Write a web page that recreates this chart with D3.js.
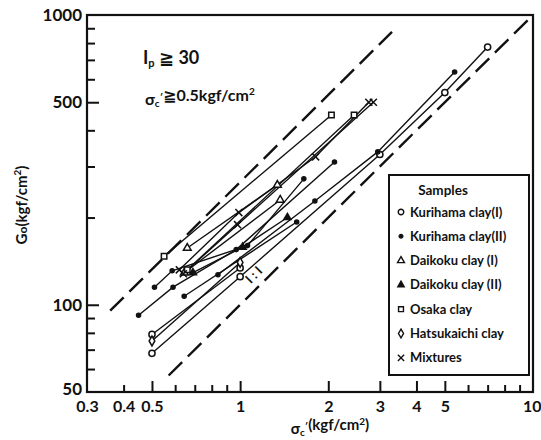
<!DOCTYPE html>
<html>
<head>
<meta charset="utf-8">
<script src="https://cdn.jsdelivr.net/npm/d3@7"></script>
<style>
  body { margin: 0; background: #fff; }
  text { font-family: Lato, "DejaVu Sans", sans-serif; font-weight: 700; fill: #111; }
</style>
</head>
<body>
<div id="chart"></div>
<script>
// data: [sigma_c' (kgf/cm2), G0 (kgf/cm2)], one array per sample line
const kurihamaI = [
  [[0.5, 68], [1.0, 125], [3.0, 330], [5.0, 540], [7.0, 775]],
  [[0.5, 79], [1.0, 134]]
];
const kurihamaII = [
  [[0.45, 92], [0.59, 115], [0.97, 155], [2.1, 311]],
  [[0.51, 115], [0.586, 131], [1.06, 160], [1.65, 272]],
  [[0.644, 107], [1.56, 193]],
  [[0.84, 127], [1.8, 228], [2.95, 337], [5.4, 636]]
];
const daikokuI = [
  [[0.66, 157], [1.34, 259]],
  [[0.645, 129], [1.37, 230]]
];
const daikokuII = [
  [[0.69, 129], [1.02, 158], [1.45, 200]]
];
const osaka = [
  [[0.55, 147], [2.05, 452]],
  [[0.66, 132], [2.45, 452]]
];
const hatsukaichi = [
  [[0.5, 75], [1.0, 140]]
];
const mixtures = [
  [[0.62, 132], [0.99, 208], [1.81, 324], [2.75, 500]],
  [[0.64, 128], [0.98, 189], [2.85, 500]]
];

// dashed bounds: G0 = k * sigma
const boundUpper = { k: 265, from: 0.36, to: 3.3 };
const boundLower = { k: 100, from: 0.57, to: 10 };

const xLabels = [0.3, 0.4, 0.5, 1, 2, 3, 4, 5, 10];
const xMajor = [0.5, 1, 2, 3, 4, 5];
const xMinor = [0.4, 0.6, 0.7, 0.8, 0.9, 6, 7, 8, 9];
const yLabels = [50, 100, 500, 1000];
const yMajor = [100, 500];
const yMinor = [60, 70, 80, 90, 200, 300, 400, 600, 700, 800, 900];

const legendNames = ["Kurihama clay(I)", "Kurihama clay(II)", "Daikoku clay (I)", "Daikoku clay (II)", "Osaka clay", "Hatsukaichi clay", "Mixtures"];

const width = 541, height = 440;
const mLeft = 87, mRight = 533, mTop = 15, mBottom = 392;

const svg = d3.select("#chart").append("svg")
  .attr("width", width).attr("height", height);

const x = d3.scaleLog().domain([0.3, 10]).range([mLeft, mRight]);
const y = d3.scaleLog().domain([50, 1000]).range([mBottom, mTop]);

// ticks (inward)
function ticks(axis, vals, len) {
  return axis.tickValues(vals).tickSize(-len).tickFormat("");
}
const gx = svg.append("g").attr("transform", `translate(0,${mBottom})`);
gx.append("g").call(ticks(d3.axisBottom(x), xMinor, 7));
gx.append("g").call(ticks(d3.axisBottom(x), xMajor, 11));
gx.append("g").call(d3.axisBottom(x).tickValues(xLabels).tickSize(0).tickPadding(9).tickFormat(d => String(d)));

const gy = svg.append("g").attr("transform", `translate(${mLeft},0)`);
gy.append("g").call(ticks(d3.axisLeft(y), yMinor, 8));
gy.append("g").call(ticks(d3.axisLeft(y), yMajor, 12));
gy.append("g").call(d3.axisLeft(y).tickValues(yLabels).tickSize(0).tickPadding(5).tickFormat(d => String(d)));

svg.selectAll(".domain").remove();
svg.selectAll(".tick line").attr("stroke", "#111").attr("stroke-width", 2);
svg.selectAll(".tick text").style("font-size", "17px").attr("fill", "#111");
gx.selectAll(".tick text").style("font-size", "16px");
// last x label sits against the right edge, as in the figure
gx.selectAll(".tick text").filter(d => d === 10).attr("text-anchor", "end").attr("dx", 8);
// keep "50" clear of "0.3" in the corner
gy.selectAll(".tick text").filter(d => d === 50).attr("dy", "0.15em");

svg.append("rect")
  .attr("x", mLeft).attr("y", mTop)
  .attr("width", mRight - mLeft).attr("height", mBottom - mTop)
  .attr("fill", "none").attr("stroke", "#111").attr("stroke-width", 2.2);

// dashed bound lines
[boundUpper, boundLower].forEach(b => {
  svg.append("line")
    .attr("x1", x(b.from)).attr("y1", y(b.k * b.from))
    .attr("x2", x(b.to)).attr("y2", y(b.k * b.to))
    .attr("stroke", "#111").attr("stroke-width", 2.4)
    .attr("stroke-dasharray", "19,8");
});

svg.append("text")
  .attr("transform", "translate(257,278) rotate(-45)")
  .attr("text-anchor", "middle")
  .style("font-size", "13px")
  .text("I : I");

// series
const groups = [
  { data: kurihamaI, type: d3.symbolCircle, size: 30, fill: "#fff" },
  { data: kurihamaII, type: d3.symbolCircle, size: 13, fill: "#111" },
  { data: daikokuI, type: d3.symbolTriangle, size: 26, fill: "#fff" },
  { data: daikokuII, type: d3.symbolTriangle, size: 22, fill: "#111" },
  { data: osaka, type: d3.symbolSquare, size: 30, fill: "#fff" },
  { data: hatsukaichi, type: d3.symbolDiamond, size: 28, fill: "#fff" },
  { data: mixtures, type: d3.symbolTimes, size: 34, fill: "none" }
];

const line = d3.line().x(d => x(d[0])).y(d => y(d[1]));

groups.forEach(g => {
  svg.append("g").selectAll("path")
    .data(g.data)
    .enter()
    .append("path")
    .attr("d", line)
    .attr("fill", "none")
    .attr("stroke", "#111")
    .attr("stroke-width", 1.4);
});

groups.forEach(g => {
  const sym = d3.symbol().type(g.type).size(g.size);
  svg.append("g").selectAll("path")
    .data(g.data.flat())
    .enter()
    .append("path")
    .attr("d", sym)
    .attr("transform", d => "translate(" + x(d[0]) + "," + y(d[1]) + ")")
    .attr("fill", g.fill)
    .attr("stroke", "#111")
    .attr("stroke-width", 1.5);
});

// legend
const lg = svg.append("g");
lg.append("rect")
  .attr("x", 389).attr("y", 175).attr("width", 140).attr("height", 200)
  .attr("fill", "#fff").attr("stroke", "#111").attr("stroke-width", 2);
lg.append("text").attr("x", 443).attr("y", 195).attr("text-anchor", "middle")
  .style("font-size", "13.5px").text("Samples");
legendNames.forEach((name, i) => {
  const yy = 212 + i * 24.3;
  const g = groups[i];
  lg.append("path")
    .attr("d", d3.symbol().type(g.type).size(g.size * 0.8)())
    .attr("transform", `translate(401,${yy})`)
    .attr("fill", g.fill).attr("stroke", "#111").attr("stroke-width", 1.4);
  lg.append("text").attr("x", 410).attr("y", yy + 4.5)
    .style("font-size", "13px").text(name);
});

// annotations
const a1 = svg.append("text").attr("x", 143).attr("y", 64).style("font-size", "18px");
a1.append("tspan").text("I");
a1.append("tspan").attr("dy", 3).style("font-size", "11px").text("p");
a1.append("tspan").attr("dy", -3).text(" ≧ 30");

function sigmaC(t, size) {
  t.append("tspan").text("σ");
  t.append("tspan").attr("dy", 2).style("font-size", size + "px").text("c");
  t.append("tspan").attr("dy", -6).style("font-size", size + "px").text("′");
  t.append("tspan").attr("dy", 4).text("");
}

const a2 = svg.append("text").attr("x", 145).attr("y", 105).style("font-size", "16px");
sigmaC(a2, 10);
a2.append("tspan").text("≧0.5kgf/cm");
a2.append("tspan").attr("dy", -6).style("font-size", "10px").text("2");

// axis titles
const tx = svg.append("text").attr("x", 330).attr("y", 434).attr("text-anchor", "middle").style("font-size", "15px");
sigmaC(tx, 10);
tx.append("tspan").text("(kgf/cm");
tx.append("tspan").attr("dy", -5).style("font-size", "10px").text("2");
tx.append("tspan").attr("dy", 5).text(")");

const ty = svg.append("text").attr("transform", "translate(27,205) rotate(-90)")
  .attr("text-anchor", "middle").style("font-size", "15px");
ty.append("tspan").text("G");
ty.append("tspan").style("font-size", "12px").text("o");
ty.append("tspan").text("(kgf/cm");
ty.append("tspan").attr("dy", -6).style("font-size", "10px").text("2");
ty.append("tspan").attr("dy", 6).text(")");
</script>
</body>
</html>
